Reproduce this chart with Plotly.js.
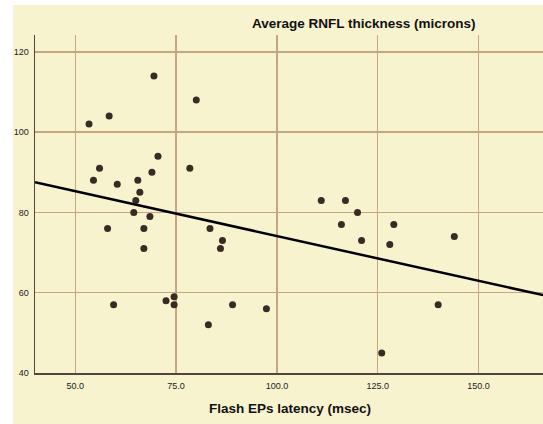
<!DOCTYPE html>
<html>
<head>
<meta charset="utf-8">
<script src="https://cdn.plot.ly/plotly-3.0.1.min.js"></script>
<style>
html,body{margin:0;padding:0;background:#fff;}
#chart{width:543px;height:424px;}
</style>
</head>
<body>
<div id="chart"></div>
<script>
// Flash EPs latency (msec)
var latency = [69.5, 80, 53.4, 58.4, 70.5, 56, 78.4, 69, 54.5, 60.4, 65.5, 66, 65, 64.5, 68.5,
               58, 67, 83.4, 86.5, 86, 67, 59.5, 72.5, 74.5, 74.5, 89, 83, 97.4,
               111, 117, 120, 116, 129, 121, 128, 144, 140, 126];
// Average RNFL thickness (microns)
var rnfl = [114, 108, 102, 104, 94, 91, 91, 90, 88, 87, 88, 85, 83, 80, 79,
            76, 76, 76, 73, 71, 71, 57, 58, 59, 57, 57, 52, 56,
            83, 83, 80, 77, 77, 73, 72, 74, 57, 45];
// Fit line end points
var fitX = [40, 166];
var fitY = [87.5, 59.4];
var xTicks = [50, 75, 100, 125, 150];
var yTicks = [40, 60, 80, 100, 120];

var W = 543, H = 424, ml = 35, mr = 0, mt = 35, mb = 51;
var pw = W - ml - mr, ph = H - mt - mb;
function px(x){ return (x - ml) / pw; }
function py(y){ return (H - mb - y) / ph; }

var traces = [
  {x: latency, y: rnfl, type: 'scatter', mode: 'markers',
   marker: {size: 7, color: '#3a2a25'}, hoverinfo: 'skip', cliponaxis: false},
  {x: fitX, y: fitY, type: 'scatter', mode: 'lines',
   line: {color: '#000', width: 2.5}, hoverinfo: 'skip'}
];

var gridColor = '#c6a680';
var layout = {
  width: W, height: H,
  margin: {l: ml, r: mr, t: mt, b: mb, pad: 0},
  paper_bgcolor: '#f8f3cf',
  plot_bgcolor: 'rgba(0,0,0,0)',
  showlegend: false,
  font: {family: 'Liberation Sans, Arial, sans-serif', color: '#222'},
  xaxis: {
    range: [40, 166], tickvals: xTicks, tickformat: '.1f',
    showgrid: true, gridcolor: gridColor, gridwidth: 1.5,
    zeroline: false, showline: true, linecolor: '#54443a', linewidth: 1.5,
    ticks: 'outside', ticklen: 4, tickcolor: 'rgba(0,0,0,0)',
    tickfont: {size: 9, color: '#222'}
  },
  yaxis: {
    range: [40, 124.2], tickvals: yTicks, tickformat: 'd',
    showgrid: true, gridcolor: gridColor, gridwidth: 1.5,
    zeroline: false, showline: true, linecolor: '#54443a', linewidth: 1.5,
    ticks: 'outside', ticklen: 3, tickcolor: 'rgba(0,0,0,0)',
    tickfont: {size: 9, color: '#222'}
  },
  shapes: [
    {type: 'rect', xref: 'paper', yref: 'paper', layer: 'below',
     x0: px(0), x1: px(13), y0: py(H), y1: py(0),
     fillcolor: '#ffffff', line: {width: 0}},
    {type: 'rect', xref: 'paper', yref: 'paper', layer: 'below',
     x0: px(0), x1: px(W), y0: py(5), y1: py(0),
     fillcolor: '#ffffff', line: {width: 0}}
  ],
  annotations: [
    {text: '<b>Average RNFL thickness (microns)</b>', xref: 'paper', yref: 'paper',
     x: px(364), y: py(24), xanchor: 'center', yanchor: 'middle', showarrow: false,
     font: {size: 13.5, color: '#111', family: 'Liberation Sans, Arial, sans-serif'}},
    {text: '<b>Flash EPs latency (msec)</b>', xref: 'paper', yref: 'paper',
     x: px(290), y: py(408), xanchor: 'center', yanchor: 'middle', showarrow: false,
     font: {size: 13.5, color: '#111', family: 'Liberation Sans, Arial, sans-serif'}}
  ]
};

Plotly.newPlot('chart', traces, layout, {staticPlot: true, displayModeBar: false});
</script>
</body>
</html>
